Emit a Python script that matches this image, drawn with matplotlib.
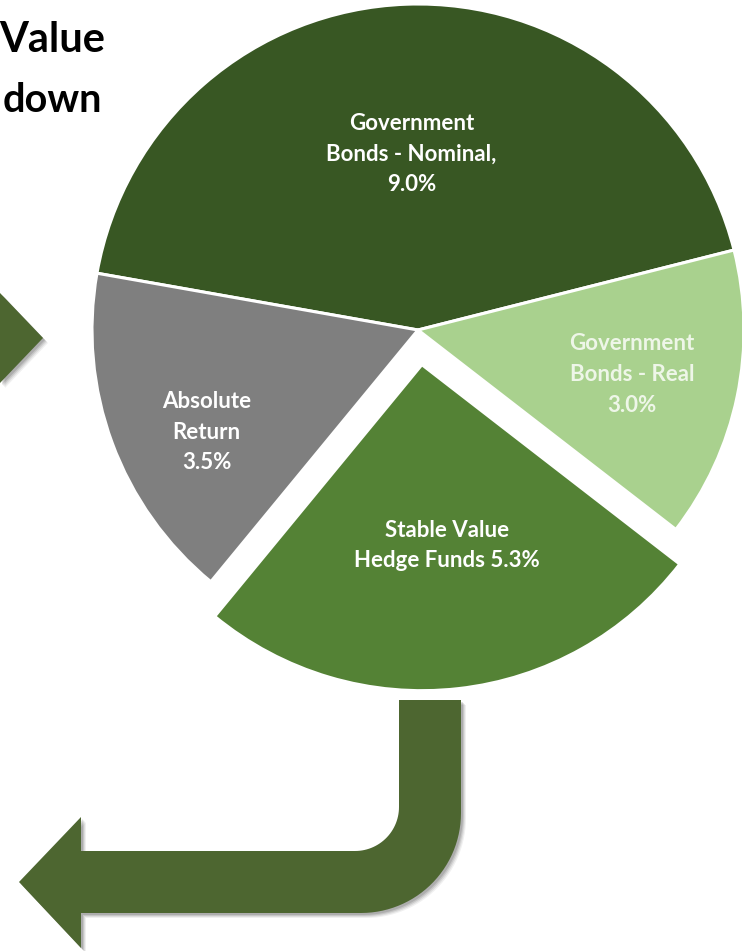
import numpy as np
import matplotlib
matplotlib.use('Agg')
import matplotlib.pyplot as plt
from matplotlib.patches import Polygon

# data (counterclockwise from the right-hand boundary)
labels = ['Government\nBonds - Nominal,\n9.0%', 'Absolute\nReturn\n3.5%',
          'Stable Value\nHedge Funds 5.3%', 'Government\nBonds - Real\n3.0%']
values = [9.0, 3.5, 5.3, 3.0]
colors = ['#385723', '#7f7f7f', '#548235', '#a9d18e']
label_txt = ['#ffffff', '#ffffff', '#ffffff', '#eef6e8']
label_r = [0.54, 0.72, 0.56, 0.67]
label_da = [0, 5.5, 1.5, 0]
explode_frac = [0, 0, 0.107, 0]

W, H = 742, 951
arrow_col = '#4d6630'

plt.rcParams['font.family'] = ['Lato', 'DejaVu Sans']

fig = plt.figure(figsize=(W / 100, H / 100), dpi=100)
ax = fig.add_axes([0, 0, 1, 1])

R = 326
cx, cy = 418, H - 330
wedges, _ = ax.pie(values, colors=colors, startangle=14.2, counterclock=True,
                   radius=R, center=(cx, cy),
                   explode=[e * R for e in explode_frac],
                   wedgeprops=dict(edgecolor='white', linewidth=2.2), frame=True)

for w, lab, lr, da, tc in zip(wedges, labels, label_r, label_da, label_txt):
    th = np.deg2rad((w.theta1 + w.theta2) / 2 + da)
    x0, y0 = w.center
    ax.text(x0 + lr * w.r * np.cos(th), y0 + lr * w.r * np.sin(th), lab,
            ha='center', va='center', color=tc, fontsize=16,
            fontweight='bold', linespacing=1.58, zorder=5)


def flip(pts):
    pts = np.asarray(pts, dtype=float)
    return np.column_stack([pts[:, 0], H - pts[:, 1]])


def arc(c, r, a0, a1, n=30):
    a = np.deg2rad(np.linspace(a0, a1, n))
    return np.column_stack([c[0] + r * np.cos(a), c[1] + r * np.sin(a)])


# bent arrow under the pie (image pixel coords, y down)
bent = np.vstack([
    [[399, 700], [399, 807]],
    arc((355, 807), 44, 0, 90),
    [[81, 851], [81, 817], [19, 882], [81, 948], [81, 913]],
    arc((361, 813), 100, 90, 0),
    [[461, 700]],
])
chevron = [[0, 293], [43, 338], [0, 383]]

for shape in (bent, chevron):
    for k, a in ((5, 0.06), (4, 0.08), (3, 0.10), (2, 0.12)):
        sh = flip(shape) + [k, -k]
        ax.add_patch(Polygon(sh, closed=True, facecolor='black', alpha=a,
                             edgecolor='none', zorder=1))
    ax.add_patch(Polygon(flip(shape), closed=True, facecolor=arrow_col,
                         edgecolor='none', zorder=2))

# title fragment at top left
ax.text(105, H - 40, 'Value', ha='right', va='center', fontsize=30,
        fontweight='bold', color='black')
ax.text(3, H - 100, 'down', ha='left', va='center', fontsize=28.5,
        fontweight='bold', color='black')

ax.set_xlim(0, W)
ax.set_ylim(0, H)
ax.set_aspect('equal')
ax.axis('off')

fig.savefig('out.png', dpi=100)
